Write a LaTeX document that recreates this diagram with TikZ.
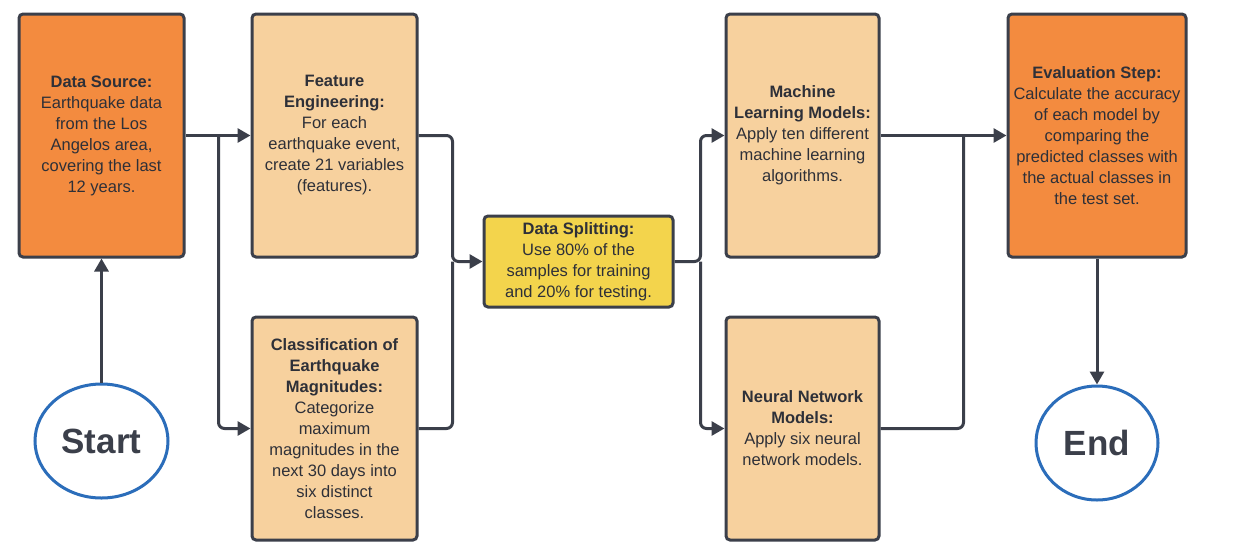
\documentclass[tikz,border=0pt]{standalone}
\usepackage{fontspec}
\setmainfont{Liberation Sans}
\usepackage{xcolor}
\usepackage{tikz}
\usetikzlibrary{positioning, shapes.geometric, arrows.meta, calc}

\definecolor{darkorange}{HTML}{F38B3F}
\definecolor{lightorange}{HTML}{F7D19E}
\definecolor{splityellow}{HTML}{F3D44C}
\definecolor{linegray}{HTML}{3B3F4A}
\definecolor{ringblue}{HTML}{2B6DBA}
\definecolor{textgray}{HTML}{2E3038}

\begin{document}
\begin{tikzpicture}[x=1pt, y=-1pt,
        box/.style={draw=linegray, line width=3pt, rounded corners=4pt, align=center,
            text=textgray, font=\fontsize{16.5}{21}\selectfont, inner sep=4pt},
        topbox/.style={box, minimum height=243pt},
        lowbox/.style={box, minimum height=223pt},
        terminal/.style={ellipse, draw=ringblue, line width=3pt, fill=white,
            text=linegray, font=\fontsize{35}{40}\selectfont\bfseries, minimum height=114pt},
        line/.style={draw=linegray, line width=3pt, rounded corners=6pt},
        link/.style={line, -{Triangle[length=13pt, width=14pt]}}]

        \useasboundingbox (0,0) rectangle (1245,550);

        \node[topbox, fill=darkorange, minimum width=165pt] (src) at (101.5,135.5)
            {\textbf{Data Source:}\\Earthquake data\\from the Los\\Angelos area,\\covering the last\\12 years.};
        \node[topbox, fill=lightorange, minimum width=165pt, right=65pt of src] (feat)
            {\textbf{Feature}\\\textbf{Engineering:}\\For each\\earthquake event,\\create 21 variables\\(features).};
        \node[lowbox, fill=lightorange, minimum width=165pt, below=57pt of feat] (class)
            {\textbf{Classification of}\\\textbf{Earthquake}\\\textbf{Magnitudes:}\\Categorize\\maximum\\magnitudes in the\\next 30 days into\\six distinct\\classes.};
        \node[box, fill=splityellow, minimum width=189pt, minimum height=91pt] (split) at (578.5,261.5)
            {\textbf{Data Splitting:}\\Use 80\% of the\\samples for training\\and 20\% for testing.};
        \node[topbox, fill=lightorange, minimum width=153pt] (ml) at (802.5,135.5)
            {\textbf{Machine}\\\textbf{Learning Models:}\\Apply ten different\\machine learning\\algorithms.};
        \node[lowbox, fill=lightorange, minimum width=153pt, below=57pt of ml] (nn)
            {\textbf{Neural Network}\\\textbf{Models:}\\Apply six neural\\network models.};
        \node[topbox, fill=darkorange, minimum width=178pt, right=126pt of ml] (eval)
            {\textbf{Evaluation Step:}\\Calculate the accuracy\\of each model by\\comparing the\\predicted classes with\\the actual classes in\\the test set.};
        \node[terminal, minimum width=133pt, below=124pt of src] (start) {Start};
        \node[terminal, minimum width=122pt, below=126pt of eval] (end) {End};

        % forks and joins
        \coordinate (srcfork) at ($(src.east)+(33pt,0)$);
        \coordinate (splitjoin) at ($(feat.east)+(34pt,0)$);
        \coordinate (splitfork) at ($(split.east)+(26pt,0)$);
        \coordinate (evaljoin) at ($(ml.east)+(83pt,0)$);

        \draw[link] (start) -- (src);
        \draw[link] (src.east) -- (feat.west);
        \draw[link] (srcfork) |- (class.west);
        \draw[link] (feat.east) -| (splitjoin |- split.west) -- (split.west);
        \draw[line] (class.east) -| (splitjoin |- split.west);
        \draw[link] (split.east) -- (splitfork) |- (ml.west);
        \draw[link] (splitfork) |- (nn.west);
        \draw[link] (ml.east) -- (eval.west);
        \draw[line] (nn.east) -| (evaljoin);
        \draw[link] (eval) -- (end);

\end{tikzpicture}
\end{document}
